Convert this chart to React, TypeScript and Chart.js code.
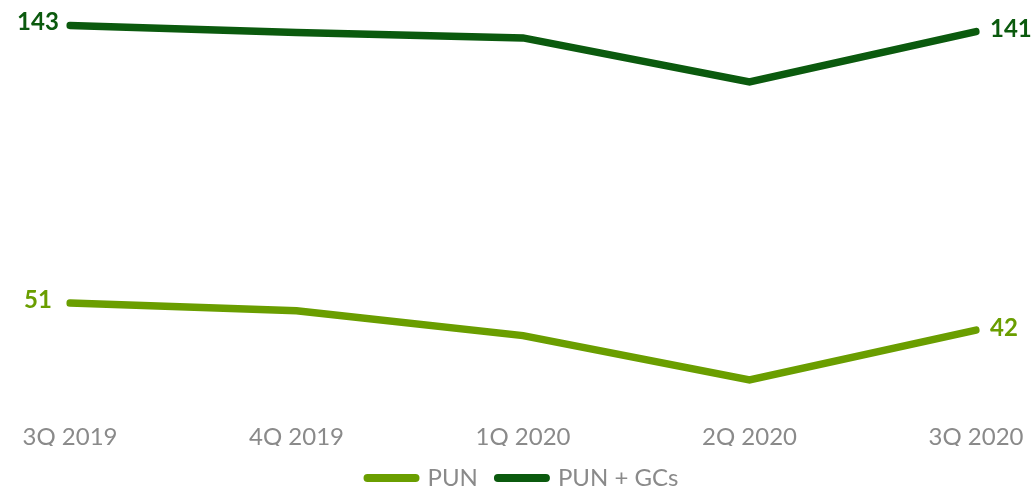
import React, { useEffect, useRef } from "react";
import { Chart, registerables } from "chart.js";

Chart.register(...registerables);

const categories = ["3Q 2019", "4Q 2019", "1Q 2020", "2Q 2020", "3Q 2020"];
const punValues = [51, 48.4, 40.2, 25.5, 42];
const punGcValues = [143, 140.7, 138.9, 124.3, 141];
const seriesNames = ["PUN", "PUN + GCs"];
const colors = ["#6a9e00", "#0b5a0e"];

const endLabels = {
  id: "endLabels",
  afterDatasetsDraw(chart: any) {
    const ctx = chart.ctx;
    ctx.save();
    ctx.font = "bold 24px Lato";
    ctx.textBaseline = "middle";
    chart.data.datasets.forEach((ds: any, i: number) => {
      const meta = chart.getDatasetMeta(i);
      const pts = meta.data;
      const first = pts[0];
      const last = pts[pts.length - 1];
      ctx.fillStyle = ds.borderColor;
      ctx.textAlign = "center";
      ctx.fillText(String(ds.data[0]), first.x - 32, first.y - 3);
      ctx.textAlign = "left";
      ctx.fillText(String(ds.data[ds.data.length - 1]), last.x + 14, last.y - 2);
    });
    ctx.restore();
  },
};

export default function App() {
  const ref = useRef<HTMLCanvasElement>(null);
  useEffect(() => {
    if (!ref.current) return;
    const chart = new Chart(ref.current, {
      type: "line",
      data: {
        labels: categories,
        datasets: [
          {
            label: seriesNames[0],
            data: punValues,
            borderColor: colors[0],
            backgroundColor: colors[0],
            borderWidth: 7.5,
            borderCapStyle: "round",
            borderJoinStyle: "miter",
            pointRadius: 0,
            tension: 0,
          },
          {
            label: seriesNames[1],
            data: punGcValues,
            borderColor: colors[1],
            backgroundColor: colors[1],
            borderWidth: 7.5,
            borderCapStyle: "round",
            borderJoinStyle: "miter",
            pointRadius: 0,
            tension: 0,
          },
        ],
      },
      options: {
        responsive: false,
        animation: false,
        layout: { padding: { top: 4.4, left: 70, right: 59, bottom: 0 } },
        scales: {
          x: {
            offset: false,
            grid: { display: false, drawTicks: false },
            border: { display: false },
            ticks: {
              color: "#8a8a8a",
              font: { family: "Lato", size: 24 },
              padding: 11,
              maxRotation: 0,
            },
            afterFit: (scale: any) => {
              scale.height = 34.4;
            },
          },
          y: {
            display: false,
            min: 15,
            max: 150,
          },
        },
        plugins: {
          tooltip: { enabled: false },
          legend: {
            position: "bottom",
            labels: {
              color: "#8a8a8a",
              font: { family: "Lato", size: 24 },
              padding: 20,
              usePointStyle: true,
              pointStyleWidth: 48,
              generateLabels: (c: any) =>
                c.data.datasets.map((ds: any, i: number) => ({
                  text: ds.label,
                  fillStyle: ds.borderColor,
                  strokeStyle: ds.borderColor,
                  lineWidth: 8,
                  lineCap: "round",
                  pointStyle: "line",
                  hidden: false,
                  datasetIndex: i,
                  fontColor: "#8a8a8a",
                })),
            },
          },
        },
      },
      plugins: [endLabels],
    });
    return () => chart.destroy();
  }, []);
  return (
    <div
      style={{
        position: "absolute",
        left: 0,
        top: 0,
        width: 1035,
        height: 487,
        overflow: "hidden",
        background: "#fff",
      }}
    >
      <canvas ref={ref} width={1035} height={500} style={{ display: "block" }} />
    </div>
  );
}
